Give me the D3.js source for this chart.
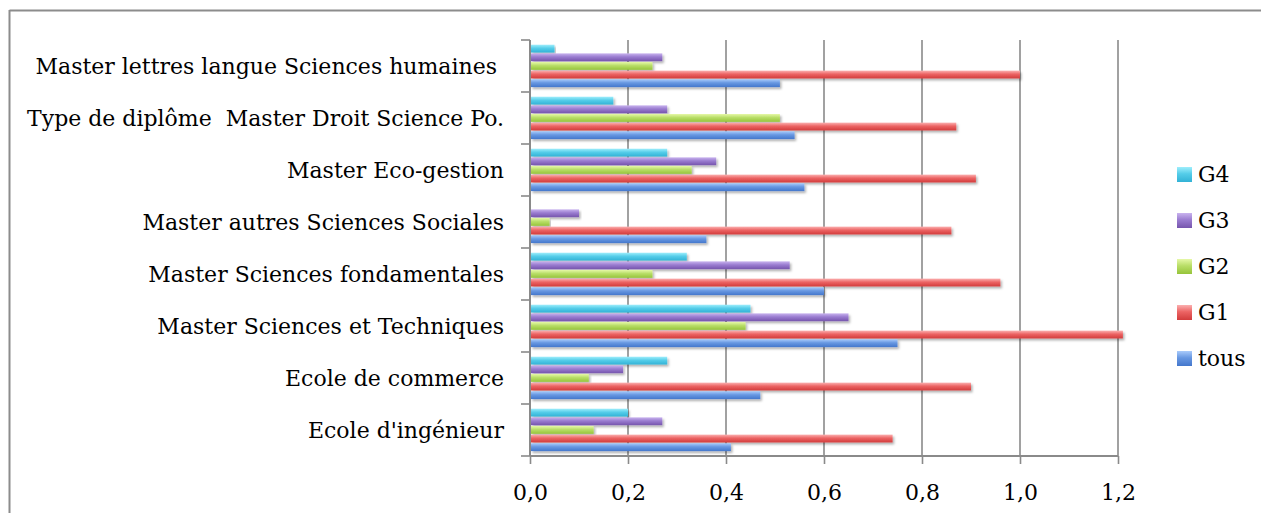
<!DOCTYPE html>
<html><head><meta charset="utf-8">
<script src="https://cdn.jsdelivr.net/npm/d3@7"></script>
<style>
html,body{margin:0;padding:0;background:#fff;}
svg{display:block;}
text{font-family:"DejaVu Serif",serif;fill:#000;}
</style></head><body>
<svg id="chart" width="1261" height="513"></svg>
<script>
const categories = [
  "Master lettres langue Sciences humaines ",
  "Type de diplôme  Master Droit Science Po.",
  "Master Eco-gestion",
  "Master autres Sciences Sociales",
  "Master Sciences fondamentales",
  "Master Sciences et Techniques",
  "Ecole de commerce",
  "Ecole d'ingénieur"
];
const seriesNames = ["G4", "G3", "G2", "G1", "tous"];
const G4   = [0.05, 0.17, 0.28, 0.00, 0.32, 0.45, 0.28, 0.20];
const G3   = [0.27, 0.28, 0.38, 0.10, 0.53, 0.65, 0.19, 0.27];
const G2   = [0.25, 0.51, 0.33, 0.04, 0.25, 0.44, 0.12, 0.13];
const G1   = [1.00, 0.87, 0.91, 0.86, 0.96, 1.21, 0.90, 0.74];
const tous = [0.51, 0.54, 0.56, 0.36, 0.60, 0.75, 0.47, 0.41];
const xTicks = [0, 0.2, 0.4, 0.6, 0.8, 1.0, 1.2];
const seriesValues = {G4, G3, G2, G1, tous};
const colors = {
  G4:   ["#9eeefc", "#55cde9", "#32b2d6"],
  G3:   ["#c9b3ee", "#9a7cd0", "#7655ad"],
  G2:   ["#e6f8a8", "#b9de68", "#96c43a"],
  G1:   ["#fbb0b0", "#ec6464", "#d23c3c"],
  tous: ["#a9cbfb", "#6898e2", "#4477cc"]
};
const FS = 22;

const svg = d3.select("#chart");
const defs = svg.append("defs");
seriesNames.forEach(s => {
  const g = defs.append("linearGradient").attr("id", "grad-" + s)
    .attr("x1", 0).attr("y1", 0).attr("x2", 0).attr("y2", 1);
  g.append("stop").attr("offset", "0%").attr("stop-color", colors[s][0]);
  g.append("stop").attr("offset", "45%").attr("stop-color", colors[s][1]);
  g.append("stop").attr("offset", "100%").attr("stop-color", colors[s][2]);
});
const f = defs.append("filter").attr("id", "shadow").attr("x", "-5%").attr("y", "-50%").attr("width", "110%").attr("height", "250%");
f.append("feDropShadow").attr("dx", 1.5).attr("dy", 2).attr("stdDeviation", 1.2).attr("flood-color", "#000").attr("flood-opacity", 0.3);

// frame
svg.append("line").attr("x1", 9.5).attr("x2", 1261).attr("y1", 10.5).attr("y2", 10.5).attr("stroke", "#8c8c8c").attr("stroke-width", 2);
svg.append("line").attr("x1", 9.5).attr("x2", 9.5).attr("y1", 10).attr("y2", 513).attr("stroke", "#8c8c8c").attr("stroke-width", 2);

const x = d3.scaleLinear().domain([0, 1.2]).range([530, 1118]);
const y = d3.scaleBand().domain(categories).range([40, 456]).paddingInner(0.17).paddingOuter(0.085);
const ys = d3.scaleBand().domain(seriesNames).range([0, y.bandwidth()]).padding(0);

// gridlines
svg.append("g").selectAll("line").data(xTicks.slice(1)).join("line")
  .attr("x1", d => x(d)).attr("x2", d => x(d))
  .attr("y1", 40).attr("y2", 456)
  .attr("stroke", "#8a8a8a").attr("stroke-width", 1.6);

// bars
const barsG = svg.append("g");
seriesNames.forEach(s => {
  barsG.append("g").selectAll("rect").data(categories.map((c, i) => ({c, v: seriesValues[s][i]})))
    .join("rect")
    .attr("x", x(0) + 1)
    .attr("y", d => y(d.c) + ys(s) + 0.3)
    .attr("width", d => Math.max(0, x(d.v) - x(0) - 1))
    .attr("height", ys.bandwidth() - 0.8)
    .attr("fill", "url(#grad-" + s + ")")
    .attr("filter", "url(#shadow)");
});

// axes
const xAxis = d3.axisBottom(x).tickValues(xTicks).tickSize(8)
  .tickFormat(d => d3.format(".1f")(d).replace(".", ","));
const gx = svg.append("g").attr("transform", "translate(0,456)").call(xAxis);
gx.select(".domain").attr("stroke", "#8a8a8a").attr("stroke-width", 2).attr("d", `M${x(0)},0H${x(1.2)}`);
gx.selectAll(".tick line").attr("stroke", "#8a8a8a").attr("stroke-width", 1.6);
gx.selectAll(".tick text").attr("font-size", FS).attr("dy", 0).attr("y", 44).style("font-family", '"DejaVu Serif",serif');

const yTickPos = d3.range(categories.length + 1).map(i => 40 + i * (416 / categories.length));
const gy = svg.append("g");
gy.append("line").attr("x1", x(0)).attr("x2", x(0)).attr("y1", 40).attr("y2", 456).attr("stroke", "#8a8a8a").attr("stroke-width", 2);
gy.selectAll("line.t").data(yTickPos).join("line").attr("class", "t")
  .attr("x1", x(0) - 9).attr("x2", x(0)).attr("y1", d => d).attr("y2", d => d)
  .attr("stroke", "#8a8a8a").attr("stroke-width", 1.6);
gy.selectAll("text").data(categories).join("text")
  .attr("x", 504).attr("y", d => y(d) + y.bandwidth() / 2)
  .attr("dy", "0.35em").attr("text-anchor", "end").attr("font-size", FS)
  .style("white-space", "pre").text(d => d);

// legend
const legend = svg.append("g");
seriesNames.forEach((s, i) => {
  const ly = 167 + i * 46;
  legend.append("rect").attr("x", 1177).attr("y", ly).attr("width", 15).attr("height", 15).attr("fill", "url(#grad-" + s + ")");
  legend.append("text").attr("x", 1198).attr("y", ly + 7.5).attr("dy", "0.35em").attr("font-size", FS).text(s);
});
</script>
</body></html>
